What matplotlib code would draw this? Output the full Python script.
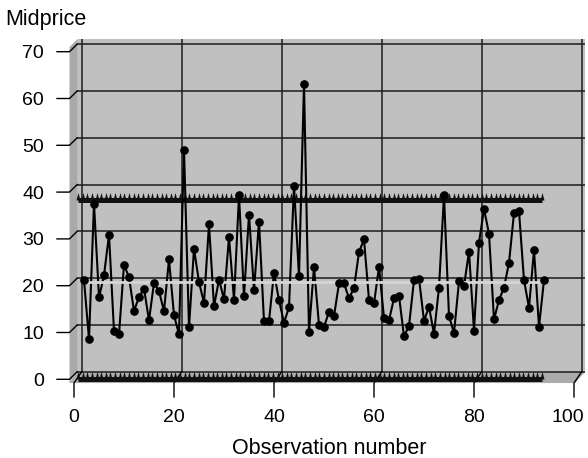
import numpy as np
import matplotlib
matplotlib.use("Agg")
import matplotlib.pyplot as plt
from matplotlib.path import Path
from matplotlib.patches import Polygon

# ---- data -------------------------------------------------------------
obs = np.arange(2, 95)
midprice = [
    21.2, 8.6, 37.5, 17.5, 22.2, 30.9, 10.3, 9.6, 24.5, 21.8,
    14.6, 17.6, 19.4, 12.6, 20.6, 18.8, 14.6, 25.6, 13.7, 9.6,
    49.1, 11.1, 27.9, 20.8, 16.3, 33.1, 15.6, 21.3, 17.1, 30.4,
    17.0, 39.3, 17.7, 35.2, 19.0, 33.7, 12.4, 12.4, 22.8, 16.9,
    12.1, 15.4, 41.4, 22.0, 63.1, 10.2, 24.0, 11.6, 11.2, 14.4,
    13.5, 20.5, 20.5, 17.3, 19.5, 27.2, 29.9, 17.0, 16.2, 24.0,
    13.1, 12.6, 17.3, 17.8, 9.2, 11.4, 21.2, 21.5, 12.5, 15.5,
    9.7, 19.6, 39.3, 13.5, 9.9, 20.9, 19.9, 27.3, 10.4, 29.2,
    36.4, 31.1, 12.8, 16.9, 19.6, 24.9, 35.5, 35.9, 21.2, 15.3,
    27.6, 11.2, 21.2,
]
upper_limit = 38.4
lower_limit = 0.0
x_ticks = [0, 20, 40, 60, 80, 100]
y_ticks = [0, 10, 20, 30, 40, 50, 60, 70]

# ---- figure / front plane -------------------------------------------------
W, H = 588, 458
fig = plt.figure(figsize=(W / 100, H / 100), dpi=100)
plt.rcParams['font.family'] = ['Liberation Sans', 'DejaVu Sans']
ax = fig.add_axes([74 / W, (H - 379.3) / H, 500 / W, (379.3 - 51.7) / H])
ax.set_xlim(0, 100)
ax.set_ylim(0, 70)
ax.axis('off')

# depth of the box (data units)
DX, DY = 1.54, 1.62
x_lo, x_hi = -0.9, 100.7
y_top = 71.0
floor_front = -0.8

wall_col = '#c0c0c0'
side_col = '#a9a9a9'
floor_col = '#ababab'
grid_col = '#1c1c1c'

# back wall
ax.add_patch(Polygon([(x_lo + DX, DY), (x_hi + DX, DY), (x_hi + DX, y_top + DY),
                      (x_lo + DX, y_top + DY)], closed=True, facecolor=wall_col,
                     edgecolor='none', zorder=0.5, clip_on=False))
# left side wall
ax.add_patch(Polygon([(x_lo, floor_front), (x_lo, y_top), (x_lo + DX, y_top + DY),
                      (x_lo + DX, DY)], closed=True, facecolor=side_col,
                     edgecolor='none', zorder=0.6, clip_on=False))
# floor
ax.add_patch(Polygon([(x_lo, floor_front), (100.2, floor_front), (x_hi + DX, DY),
                      (x_lo + DX, DY)], closed=True, facecolor=floor_col,
                     edgecolor='none', zorder=0.6, clip_on=False))

# grid on the back wall
for v in y_ticks:
    ax.plot([x_lo + DX, x_hi + DX], [v + DY, v + DY], color=grid_col, lw=1.1,
            zorder=1, clip_on=False, solid_capstyle='butt')
for v in x_ticks:
    ax.plot([v + DX, v + DX], [DY, y_top + DY], color=grid_col, lw=1.1,
            zorder=1, clip_on=False, solid_capstyle='butt')

# y ticks with depth connectors
for v in y_ticks:
    ax.plot([-3.4, x_lo, x_lo + DX], [v, v, v + DY], color='black', lw=1.0,
            zorder=2, clip_on=False)
    ax.text(-6.0, v - 1.39, str(v), ha='right', va='baseline', fontsize=14,
            clip_on=False)
# x ticks with depth connectors; the last label is kept inside the canvas
for v in x_ticks:
    ax.plot([v, v, v + DX], [-3.77, floor_front, DY], color='black', lw=1.0,
            zorder=2, clip_on=False)
    ax.text(min(v, 98.8), -9.2, str(v), ha='center', va='baseline',
            fontsize=14, clip_on=False)

# ---- control lines ---------------------------------------------------------
tooth = Path([(-0.27, 0.0), (0.27, 0.0), (0.0, 1.0), (-0.27, 0.0)],
             [Path.MOVETO, Path.LINETO, Path.LINETO, Path.CLOSEPOLY])
span = np.linspace(obs[0] - 1.2, obs[-1] - 0.4, 101)
for lim in (upper_limit, lower_limit):
    ax.plot(span, np.full_like(span, lim), color='#111111', lw=3.6,
            marker=tooth, markersize=10.8, markerfacecolor='#111111',
            markeredgewidth=0, zorder=3, clip_on=False,
            solid_capstyle='butt')

center = float(np.mean(midprice))
ax.plot([span[0] + 0.7, span[-1] - 0.4], [center, center], color='#d6d6d6',
        lw=2.0, zorder=4.5, clip_on=False, solid_capstyle='butt')

# ---- series ----------------------------------------------------------------
ax.plot(obs, midprice, color='black', lw=1.5, zorder=4, clip_on=False)
ax.plot(obs, midprice, linestyle='none', marker='o', markersize=5.2,
        color='black', zorder=5, clip_on=False)

# ---- titles ----------------------------------------------------------------
fig.text(5 / W, 1 - 25 / H, 'Midprice', ha='left', va='baseline', fontsize=15.5)
fig.text(329 / W, 1 - 454 / H, 'Observation number', ha='center',
         va='baseline', fontsize=15.5)

fig.savefig('out.png', dpi=100)
